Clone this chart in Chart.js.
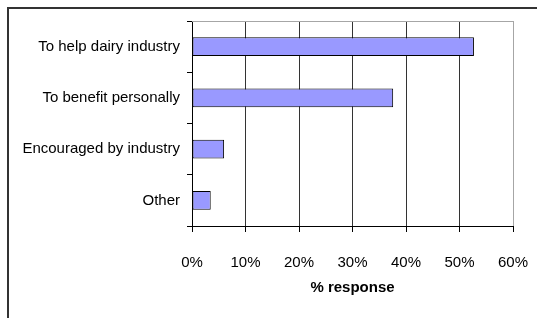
<!DOCTYPE html>
<html>
<head>
<meta charset="utf-8">
<script src="https://cdn.jsdelivr.net/npm/chart.js@4/dist/chart.umd.min.js"></script>
<style>
  html, body { margin: 0; padding: 0; background: #fff; }
  #frame { position: absolute; left: 7px; top: 7px; width: 560px; height: 340px;
           border-left: 2px solid #333; border-top: 2px solid #333; }
  #wrap { position: absolute; left: 0; top: 0; width: 537px; height: 318px; }
</style>
</head>
<body>
<div id="frame"></div>
<div id="wrap"><canvas id="grafico"></canvas></div>
<script>
const categorias = ["To help dairy industry", "To benefit personally", "Encouraged by industry", "Other"];
const respostas = [52.7, 37.6, 6.0, 3.5]; // % response
const xTickLabels = ["0%", "10%", "20%", "30%", "40%", "50%", "60%"];
const tituloX = "% response";

Chart.defaults.font.family = "'Liberation Sans', Arial, sans-serif";
Chart.defaults.font.size = 15;
Chart.defaults.color = "#000";

// borda superior cinza da area do grafico
const bordaTopo = {
  id: "bordaTopo",
  afterDraw(chart) {
    const a = chart.chartArea, ctx = chart.ctx;
    ctx.save();
    ctx.strokeStyle = "#a6a6a6";
    ctx.lineWidth = 1;
    ctx.beginPath();
    ctx.moveTo(a.left, a.top + 0.5);
    ctx.lineTo(a.right + 0.5, a.top + 0.5);
    ctx.stroke();
    ctx.restore();
  }
};

const ctx = document.getElementById("grafico").getContext("2d");
const chart = new Chart(ctx, {
  type: "bar",
  data: {
    labels: categorias,
    datasets: [{
      data: respostas,
      backgroundColor: "#9999ff",
      borderColor: "#000",
      borderWidth: 1,
      borderSkipped: false,
      categoryPercentage: 1,
      barPercentage: 0.37
    }]
  },
  options: {
    indexAxis: "y",
    responsive: true,
    maintainAspectRatio: false,
    animation: false,
    layout: { padding: { left: 0, top: 21, right: 24, bottom: 0 } },
    plugins: { legend: { display: false }, tooltip: { enabled: false } },
    scales: {
      x: {
        min: 0, max: 60,
        ticks: {
          stepSize: 10,
          padding: 22,
          callback: (v, i) => xTickLabels[i]
        },
        grid: {
          color: c => c.index === xTickLabels.length - 1 ? "#a6a6a6" : "#333",
          tickColor: "#000",
          tickLength: 6,
          lineWidth: 1
        },
        border: { color: "#000", width: 1 },
        title: {
          display: true,
          text: tituloX,
          font: { weight: "bold", size: 15 },
          padding: { top: 0, bottom: 21 }
        },
        afterFit: s => { s.height = 92; s.paddingLeft = 0; s.paddingRight = 0; }
      },
      y: {
        ticks: { padding: 7 },
        grid: {
          offset: true,
          drawOnChartArea: false,
          color: "#000",
          tickLength: 5
        },
        border: { color: "#000", width: 1 },
        afterFit: s => { s.width = 192; s.paddingTop = 0; s.paddingBottom = 0; }
      }
    }
  },
  plugins: [bordaTopo]
});
</script>
</body>
</html>
